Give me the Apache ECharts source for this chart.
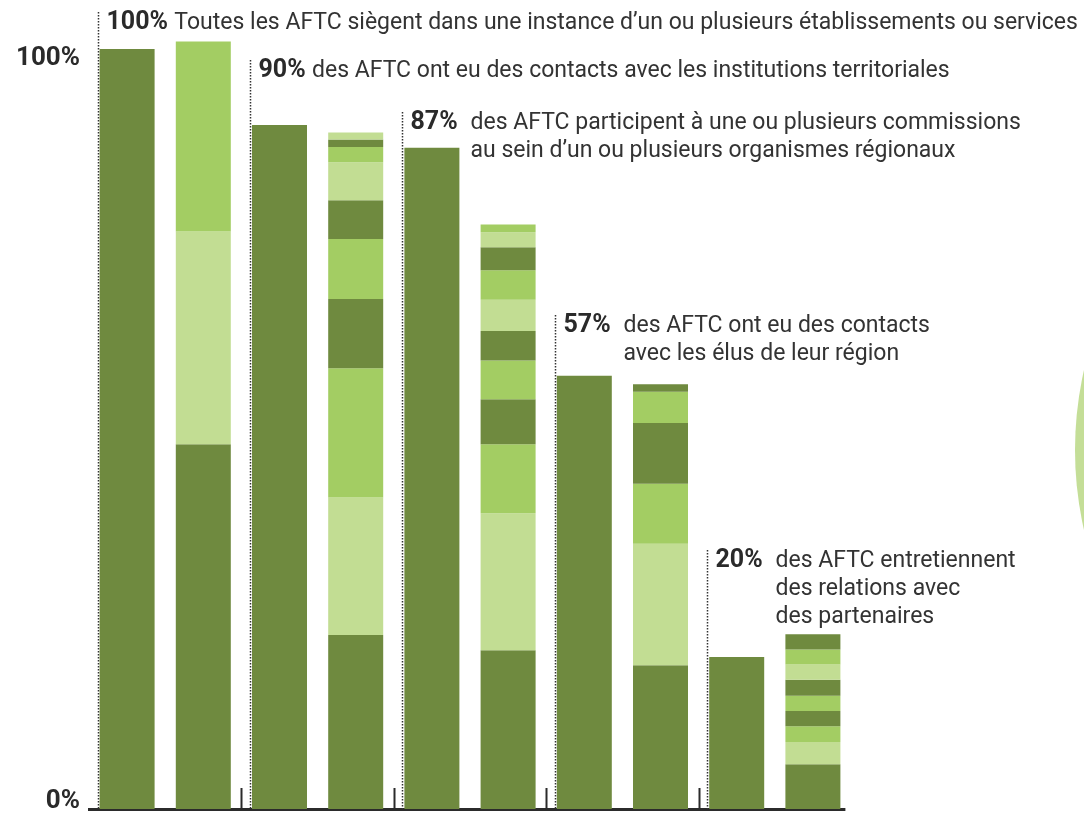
<!DOCTYPE html>
<html lang="fr">
<head>
  <meta charset="UTF-8">
  <title>AFTC</title>
  <style>
    html, body { margin: 0; padding: 0; background: #fff; }
    #myChart { width: 1084px; height: 816px; }
  </style>
</head>
<body>
  <div id="myChart"></div>
  <script src="https://cdn.jsdelivr.net/npm/echarts@6/dist/echarts.min.js"></script>
  <script>
    // data
    const categories = ['g1', 'g1d', 'g2', 'g2d', 'g3', 'g3d', 'g4', 'g4d', 'g5', 'g5d'];
    const solidTotals = [100, 90, 87, 57, 20];
    // detail bars, bottom to top
    const detailSegments = [
      [48, 28, 25],
      [22.9, 18.1, 17, 9.1, 7.9, 5.1, 5, 2, 1, 0.9],
      [20.9, 18, 9.1, 5.9, 5.1, 3.9, 4.1, 3.9, 3, 2, 1],
      [18.9, 16, 7.9, 8, 4.1, 1],
      [5.9, 2.9, 2.1, 2, 2, 2.1, 2, 2, 2]
    ];
    const detailTones = [
      ['d', 'p', 'm'],
      ['d', 'p', 'm', 'd', 'm', 'd', 'p', 'm', 'd', 'p'],
      ['d', 'p', 'm', 'd', 'm', 'd', 'p', 'm', 'd', 'p', 'm'],
      ['d', 'p', 'm', 'd', 'm', 'd'],
      ['d', 'p', 'm', 'd', 'm', 'd', 'p', 'm', 'd']
    ];
    const notePercents = ['100%', '90%', '87%', '57%', '20%'];
    const noteLines = [
      ['Toutes les AFTC siègent dans une instance d’un ou plusieurs établissements ou services'],
      ['des AFTC ont eu des contacts avec les institutions territoriales'],
      ['des AFTC participent à une ou plusieurs commissions', 'au sein d’un ou plusieurs organismes régionaux'],
      ['des AFTC ont eu des contacts', 'avec les élus de leur région'],
      ['des AFTC entretiennent', 'des relations avec', 'des partenaires']
    ];
    const yLabels = ['0%', '100%'];

    // layout
    const noteTop = [23, 71, 123, 326, 561];
    const colors = { d: '#6f8a3f', m: '#a3cd63', p: '#c2dd93' };
    const BAR_W = 55;
    const FONT = 'Roboto';

    const bars = [];
    solidTotals.forEach((t, i) => {
      bars.push({ segs: [t], tones: ['d'] });
      bars.push({ segs: detailSegments[i], tones: detailTones[i] });
    });
    const depth = Math.max(...bars.map(b => b.segs.length));
    const series = [];
    for (let k = 0; k < depth; k++) {
      series.push({
        type: 'bar',
        stack: 'all',
        barWidth: BAR_W,
        clip: false,
        silent: true,
        animation: false,
        data: bars.map(b => k < b.segs.length
          ? { value: b.segs[k], itemStyle: { color: colors[b.tones[k]] } }
          : '-')
      });
    }

    const myChart = echarts.init(document.getElementById('myChart'));
    const option = {
      backgroundColor: '#fff',
      animation: false,
      grid: { left: 89, top: 49, width: 762, bottom: 7 },
      xAxis: {
        type: 'category',
        data: categories,
        axisLine: { show: false },
        axisTick: { show: false },
        axisLabel: { show: false }
      },
      yAxis: {
        type: 'value',
        min: 0,
        max: 100,
        axisLine: { show: false },
        axisTick: { show: false },
        axisLabel: { show: false },
        splitLine: { show: false }
      },
      series
    };
    myChart.setOption(option);

    const graphics = [{
      type: 'circle',
      shape: { cx: 1435, cy: 450, r: 360 },
      style: { fill: '#c4de97' },
      silent: true
    }];
    const y0 = myChart.convertToPixel({ yAxisIndex: 0 }, 0);
    const y100 = myChart.convertToPixel({ yAxisIndex: 0 }, 100);
    const px = (i) => myChart.convertToPixel({ xAxisIndex: 0 }, categories[i]);
    const step = px(1) - px(0);

    // baseline and group separators
    graphics.push({
      type: 'line',
      shape: { x1: 88, y1: y0 + 0.5, x2: px(categories.length - 1) + BAR_W / 2 + 5, y2: y0 + 0.5 },
      style: { stroke: '#2b2b2b', lineWidth: 3 },
      silent: true
    });
    for (let g = 1; g < solidTotals.length; g++) {
      const sx = Math.round(px(g * 2) - step / 2) + 0.5;
      graphics.push({
        type: 'line',
        shape: { x1: sx, y1: y0 - 21, x2: sx, y2: y0 },
        style: { stroke: '#2b2b2b', lineWidth: 2 },
        silent: true
      });
    }

    graphics.push({
      type: 'text', x: 80, y: y100 + 9,
      style: { text: yLabels[1], font: `bold 26px ${FONT}`, fill: '#2a2a2a', align: 'right', verticalAlign: 'middle' }
    }, {
      type: 'text', x: 80, y: y0 - 8,
      style: { text: yLabels[0], font: `bold 26px ${FONT}`, fill: '#2a2a2a', align: 'right', verticalAlign: 'middle' }
    });

    notePercents.forEach((pct, i) => {
      const lx = Math.round(px(i * 2) - BAR_W / 2) - 1.5;
      const ty = noteTop[i];
      graphics.push({
        type: 'line',
        shape: { x1: lx, y1: ty - 11, x2: lx, y2: y0 },
        style: { stroke: '#333', lineWidth: 1.5, lineDash: [1.5, 1.5] },
        silent: true
      });
      const lines = noteLines[i];
      if (lines.length === 1) {
        graphics.push({
          type: 'text', x: lx + 8, y: ty,
          style: {
            text: `{b|${pct}} {r|${lines[0]}}`,
            verticalAlign: 'middle',
            rich: {
              b: { font: `bold 25px ${FONT}`, fill: '#2a2a2a', padding: [0, 3, 0, 0] },
              r: { font: `23px ${FONT}`, fill: '#333' }
            }
          }
        });
      } else {
        graphics.push({
          type: 'text', x: lx + 8, y: ty,
          style: { text: pct, font: `bold 25px ${FONT}`, fill: '#2a2a2a', verticalAlign: 'middle' }
        });
        lines.forEach((ln, j) => {
          graphics.push({
            type: 'text', x: lx + 68, y: ty + j * 28,
            style: { text: ln, font: `23px ${FONT}`, fill: '#333', verticalAlign: 'middle' }
          });
        });
      }
    });
    myChart.setOption({ graphic: graphics });
  </script>
</body>
</html>
